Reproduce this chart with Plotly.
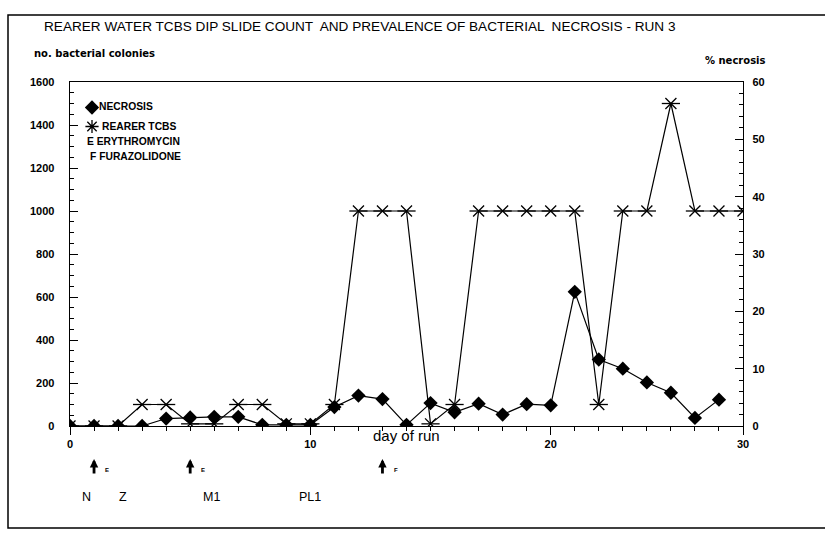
import plotly.graph_objects as go

# ---- data ----
NECROSIS_DAYS = list(range(0, 28))
NECROSIS_PCT = [0, 0, 0, 0, 1.3, 1.5, 1.6, 1.6, 0.2, 0.2, 0.2, 3.3, 5.3, 4.7,
                0.2, 4.0, 2.4, 3.9, 2.0, 3.8, 3.6, 23.4, 11.6, 10.0, 7.6, 5.8, 1.4, 4.6]
TCBS_DAYS = list(range(0, 29))
TCBS_COUNT = [0, 0, 0, 100, 100, 10, 10, 100, 100, 10, 10, 100, 1000, 1000, 1000,
              10, 100, 1000, 1000, 1000, 1000, 1000, 100, 1000, 1000, 1500, 1000, 1000, 1000]
X_TICK_VALS = [0, 10, 20, 28]
X_TICK_TEXT = ["0", "10", "20", "30"]
TREATMENT_DAYS = [1, 5, 13]
TREATMENT_LABELS = ["E", "E", "F"]
STAGE_DAYS = [0.7, 2.2, 5.9, 10.0]
STAGE_LABELS = ["N", "Z", "M1", "PL1"]
LEGEND_TEXT = ["NECROSIS", "REARER TCBS", "E ERYTHROMYCIN", "F FURAZOLIDONE"]

FONT = "Liberation Sans, Arial, DejaVu Sans, sans-serif"
BOLDFONT = "Liberation Sans, Arial, sans-serif"
W, H = 825, 533
L, R, T, B = 70, 82, 82, 107
PW, PH = W - L - R, H - T - B


def px_x(px):
    return (px - L) / PW


def px_y(py):
    return (H - B - py) / PH


fig = go.Figure()

# TCBS (left axis) - star markers built from two open symbols
fig.add_trace(go.Scatter(x=TCBS_DAYS, y=TCBS_COUNT, mode="lines+markers",
                         line=dict(color="black", width=1.2),
                         marker=dict(symbol="x-thin-open", size=11, color="black",
                                     line=dict(color="black", width=1.3)),
                         showlegend=False, yaxis="y"))
fig.add_trace(go.Scatter(x=TCBS_DAYS, y=TCBS_COUNT, mode="markers",
                         marker=dict(symbol="line-ew-open", size=13, color="black",
                                     line=dict(color="black", width=1.3)),
                         showlegend=False, yaxis="y"))
# Necrosis (right axis)
fig.add_trace(go.Scatter(x=NECROSIS_DAYS, y=NECROSIS_PCT, mode="lines+markers",
                         line=dict(color="black", width=1.2),
                         marker=dict(symbol="diamond", size=11, color="black"),
                         showlegend=False, yaxis="y2"))

# legend symbols (names drawn as annotations next to them)
fig.add_trace(go.Scatter(x=[None], y=[None], mode="markers", name="",
                         marker=dict(symbol="diamond", size=11, color="black")))
fig.add_trace(go.Scatter(x=[None], y=[None], mode="markers", name="",
                         marker=dict(symbol="asterisk-open", size=11, color="black",
                                     line=dict(color="black", width=1.3))))

tickfont = dict(family=BOLDFONT, size=11, color="black", weight="bold")

fig.update_layout(
    width=W, height=H,
    margin=dict(l=L, r=R, t=T, b=B),
    paper_bgcolor="white", plot_bgcolor="white",
    font=dict(family=FONT, color="black"),
    xaxis=dict(range=[0, 28], tickmode="array", tickvals=X_TICK_VALS, ticktext=X_TICK_TEXT,
               ticks="outside", ticklen=8, tickwidth=1, tickcolor="black",
               minor=dict(tickmode="linear", tick0=0, dtick=1, ticks="outside",
                          ticklen=4, tickcolor="black"),
               showline=True, linecolor="black", linewidth=1.2, mirror=True,
               showgrid=False, zeroline=False, tickfont=tickfont),
    yaxis=dict(range=[0, 1600], dtick=200, ticks="inside", ticklen=8, tickcolor="black",
               minor=dict(dtick=50, ticks="inside", ticklen=4, tickcolor="black"),
               showline=True, linecolor="black", linewidth=1.2,
               ticksuffix="\u2007\u2007", 
               showgrid=False, zeroline=False, tickfont=tickfont),
    yaxis2=dict(range=[0, 60], dtick=10, overlaying="y", side="right",
                ticks="inside", ticklen=8, tickcolor="black",
                minor=dict(dtick=2, ticks="inside", ticklen=4, tickcolor="black"),
                showline=True, linecolor="black", linewidth=1.2, tickprefix="\u2007",
                showgrid=False, zeroline=False, tickfont=tickfont),
    legend=dict(x=px_x(72), y=px_y(93), xanchor="left", yanchor="top",
                bgcolor="rgba(0,0,0,0)", itemwidth=30, tracegroupgap=0,
                font=dict(family=FONT, size=10, color="black")),
    showlegend=True,
)

ann = []
ann.append(dict(text="REARER WATER TCBS DIP SLIDE COUNT  AND PREVALENCE OF BACTERIAL  NECROSIS - RUN 3",
                xref="paper", yref="paper", x=px_x(42), y=px_y(27), xanchor="left", yanchor="middle",
                showarrow=False, font=dict(family=FONT, size=13.6)))
ann.append(dict(text="<b>no. bacterial colonies</b>", xref="paper", yref="paper",
                x=px_x(32), y=px_y(53), xanchor="left", yanchor="middle",
                showarrow=False, font=dict(family="DejaVu Sans", size=10)))
ann.append(dict(text="<b>% necrosis</b>", xref="paper", yref="paper",
                x=px_x(768), y=px_y(60), xanchor="right", yanchor="middle",
                showarrow=False, font=dict(family="DejaVu Sans", size=10)))
legend_pos = [(97, 106), (100, 126), (85, 141), (88, 156)]
for txt, (lx, ly) in zip(LEGEND_TEXT, legend_pos):
    ann.append(dict(text="<b>" + txt + "</b>", xref="paper", yref="paper",
                    x=px_x(lx), y=px_y(ly), xanchor="left", yanchor="middle",
                    showarrow=False, font=dict(family=FONT, size=10.3)))
ann.append(dict(text="day of run", xref="x", yref="paper", x=14.0, y=px_y(435),
                xanchor="center", yanchor="middle", showarrow=False,
                font=dict(family=FONT, size=15)))
for d, lab in zip(TREATMENT_DAYS, TREATMENT_LABELS):
    ann.append(dict(text="", xref="x", yref="paper", x=d, y=px_y(459),
                    ax=0, ay=16, axref="pixel", ayref="pixel",
                    showarrow=True, arrowhead=2, arrowsize=0.6, arrowwidth=2.8,
                    arrowcolor="black", standoff=0, startstandoff=0))
    ann.append(dict(text="<b>" + lab + "</b>", xref="x", yref="paper", x=d + 0.38, y=px_y(470),
                    xanchor="left", yanchor="middle", showarrow=False,
                    font=dict(family=FONT, size=6)))
for d, lab in zip(STAGE_DAYS, STAGE_LABELS):
    ann.append(dict(text=lab, xref="x", yref="paper", x=d, y=px_y(497),
                    xanchor="center", yanchor="middle", showarrow=False,
                    font=dict(family=FONT, size=12.5)))
fig.update_layout(annotations=ann)

fig.add_shape(type="rect", xref="paper", yref="paper",
              x0=px_x(8), x1=px_x(860), y0=px_y(528), y1=px_y(15),
              line=dict(color="black", width=1.5))

fig.write_html("out.html")
